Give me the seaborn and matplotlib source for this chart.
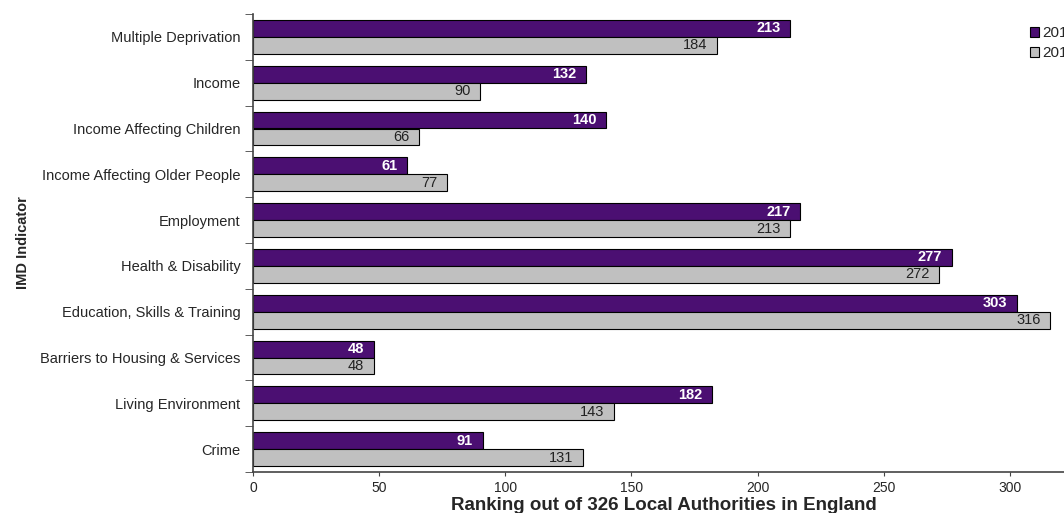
import numpy as np
import seaborn as sns
import matplotlib.pyplot as plt
import pandas as pd

# IMD domains and rankings (out of 326 local authorities)
indicators = ['Multiple Deprivation', 'Income', 'Income Affecting Children',
              'Income Affecting Older People', 'Employment', 'Health & Disability',
              'Education, Skills & Training', 'Barriers to Housing & Services',
              'Living Environment', 'Crime']
rank_2015 = [213, 132, 140, 61, 217, 277, 303, 48, 182, 91]
rank_2010 = [184, 90, 66, 77, 213, 272, 316, 48, 143, 131]
years = ['2015', '2010']

df = pd.DataFrame({
    'indicator': indicators * 2,
    'rank': rank_2015 + rank_2010,
    'year': [years[0]] * len(indicators) + [years[1]] * len(indicators),
})

sns.set_style('white')
plt.rcParams['font.family'] = ['Liberation Sans', 'DejaVu Sans']

fig = plt.figure(figsize=(10.64, 5.13), dpi=100)
ax = fig.add_axes([253 / 1064, 1 - 472 / 513, 1 - 253 / 1064, (472 - 14) / 513])

sns.barplot(data=df, y='indicator', x='rank', hue='year', orient='h',
            palette=['#4B0F72', '#C0C0C0'], edgecolor='black', linewidth=0.8,
            width=0.74, saturation=1, ax=ax, legend=False)

# value labels inside bar ends
for cont, col, wt in zip(ax.containers, ['white', '#222222'], ['bold', 'normal']):
    for bar in cont:
        w = bar.get_width()
        ax.annotate(f'{w:.0f}', (w, bar.get_y() + bar.get_height() / 2),
                    xytext=(-7, 0), textcoords='offset points',
                    ha='right', va='center', color=col, fontsize=10.5, fontweight=wt)

ax.set_xlim(0, 321.5)
ax.set_ylim(len(indicators) - 0.5, -0.5)
ax.set_xticks([0, 50, 100, 150, 200, 250, 300])
ax.tick_params(axis='x', labelsize=10, length=3, color='#444444', direction='out', bottom=True)
ax.tick_params(axis='y', which='major', labelsize=10.5, length=0, pad=9)
ax.set_yticks(np.arange(-0.5, len(indicators), 1), minor=True)
ax.tick_params(axis='y', which='minor', length=6, color='#444444', left=True)

sns.despine(ax=ax, top=True, right=True)
for s in ['left', 'bottom']:
    ax.spines[s].set_color('#444444')
    ax.spines[s].set_linewidth(1.2)

ax.set_ylabel('IMD Indicator', fontsize=10.5, fontweight='bold')
ax.set_xlabel('Ranking out of 326 Local Authorities in England', fontsize=13.5,
              fontweight='bold')
ax.yaxis.set_label_coords(-0.275, 0.5)
ax.xaxis.set_label_coords(0.507, -0.054)

handles = [plt.Rectangle((0, 0), 1, 1, facecolor=c, edgecolor='black', linewidth=0.8)
           for c in ['#4B0F72', '#C0C0C0']]
fig.legend(handles, years, loc='upper left', bbox_to_anchor=(1024 / 1064, 1 - 20 / 513),
           frameon=False, fontsize=11, handlelength=0.6, handleheight=0.6,
           handletextpad=0.2, labelspacing=0.4, borderaxespad=0)

fig.savefig('out.png', dpi=100)
